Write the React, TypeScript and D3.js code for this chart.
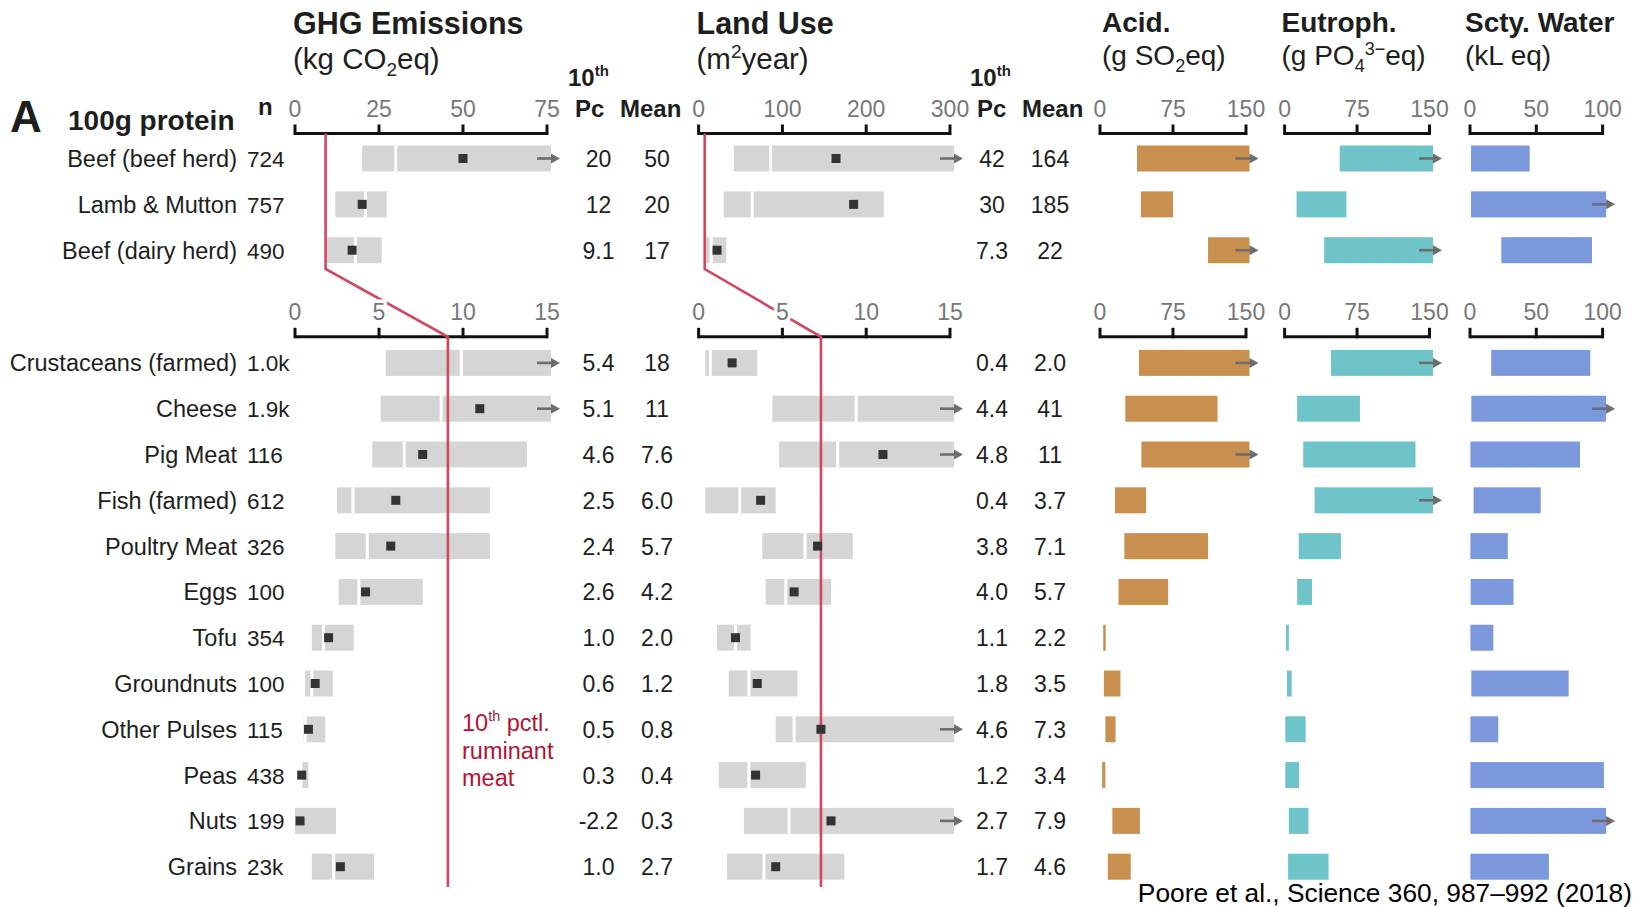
import React from "react";
import * as d3 from "d3";

const W = 1635;
const H = 907;
const FONT = "'Liberation Sans', Arial, Helvetica, sans-serif";

// Food groups (first three are ruminant meats, drawn on the wider upper scales)
const foods = [
  "Beef (beef herd)", "Lamb & Mutton", "Beef (dairy herd)",
  "Crustaceans (farmed)", "Cheese", "Pig Meat", "Fish (farmed)", "Poultry Meat",
  "Eggs", "Tofu", "Groundnuts", "Other Pulses", "Peas", "Nuts", "Grains",
];
const nObs = ["724", "757", "490", "1.0k", "1.9k", "116", "612", "326", "100", "354", "100", "115", "438", "199", "23k"];

// GHG emissions, kg CO2eq per 100 g protein
const ghgP10 = [20, 12, 9.1, 5.4, 5.1, 4.6, 2.5, 2.4, 2.6, 1.0, 0.6, 0.5, 0.3, -2.2, 1.0];
const ghgMedian = [30, 21, 18, 9.9, 8.7, 6.5, 3.45, 4.3, 3.8, 1.7, 1.0, 0.6, 0.35, -0.4, 2.3];
const ghgP90 = [105, 27.3, 25.8, 24, 21, 13.8, 11.6, 11.6, 7.6, 3.5, 2.25, 1.8, 0.8, 2.44, 4.7];
const ghgMean = [50, 20, 17, 18, 11, 7.6, 6.0, 5.7, 4.2, 2.0, 1.2, 0.8, 0.4, 0.3, 2.7];

// Land use, m2 year per 100 g protein
const landP10 = [42, 30, 7.3, 0.4, 4.4, 4.8, 0.4, 3.8, 4.0, 1.1, 1.8, 4.6, 1.2, 2.7, 1.7];
const landMedian = [86, 64, 15, 0.7, 9.4, 8.3, 2.45, 6.35, 5.2, 2.2, 3.0, 5.7, 3.0, 5.4, 3.9];
const landP90 = [370, 221, 33, 3.5, 17, 16, 4.6, 9.2, 7.9, 3.1, 5.9, 17, 6.4, 16, 8.7];
const landMean = [164, 185, 22, 2.0, 41, 11, 3.7, 7.1, 5.7, 2.2, 3.5, 7.3, 3.4, 7.9, 4.6];

// Acidification, g SO2eq
const acidLo = [38, 42, 111, 40, 26, 42.5, 15.3, 25, 19, 3.3, 4, 5.5, 2.2, 12.7, 8];
const acidHi = [190, 75, 180, 175, 120.7, 160, 47.3, 111, 70, 5.8, 21, 16, 5.5, 41, 31.6];
// Eutrophication, g PO4 3- eq
const eutroLo = [57, 12.4, 41, 48, 13, 19.3, 31, 14.6, 13, 1.5, 2.5, 0.7, 0.7, 4.4, 3.6];
const eutroHi = [200, 64, 190, 185, 78, 135.5, 170, 58.3, 28.4, 4.4, 7.3, 21.8, 15, 24.7, 45.5];
// Scarcity-weighted water, kL eq
const waterLo = [0.8, 0.8, 23.6, 16, 1, 0.3, 2.7, 0.3, 0.5, 0.3, 1, 0.3, 0.3, 0.3, 0.3];
const waterHi = [45, 130, 92, 90.7, 120, 83, 53.3, 28.5, 32.8, 17.6, 74.4, 21.3, 101, 140, 59.5];

// 10th percentile of ruminant meat (dairy-herd beef)
const ghgRuminantP10 = 9.1;
const landRuminantP10 = 7.3;

const ghgTicksTop = [0, 25, 50, 75];
const landTicksTop = [0, 100, 200, 300];
const lowTicks = [0, 5, 10, 15];
const impactTicks = [0, 75, 150];
const waterTicks = [0, 50, 100];

const topFoods = foods.slice(0, 3);
const lowFoods = foods.slice(3);

const ghgTop = d3.scaleLinear().domain([0, 75]).range([295, 547]);
const ghgLow = d3.scaleLinear().domain([0, 15]).range([295, 547]);
const landTop = d3.scaleLinear().domain([0, 300]).range([698.6, 950]);
const landLow = d3.scaleLinear().domain([0, 15]).range([698.6, 950]);
const acidX = d3.scaleLinear().domain([0, 150]).range([1100, 1246]);
const eutroX = d3.scaleLinear().domain([0, 150]).range([1284.6, 1429.5]);
const waterX = d3.scaleLinear().domain([0, 100]).range([1470, 1602.6]);
const yTop = d3.scalePoint<string>().domain(topFoods).range([158.5, 250.2]);
const yLow = d3.scalePoint<string>().domain(lowFoods).range([362.9, 866.7]);

const AXIS_TOP = 133.5;
const AXIS_LOW = 336.8;
const BAR_H = 26;
const GRAY = "#d5d5d5";
const ARROW = "#6d6d6d";
const RED = "#d2465f";
const TXT = "#1e1e1e";

const rowY = (i: number) => (i < 3 ? (yTop(foods[i]) as number) : (yLow(foods[i]) as number));
const fmt = (v: number) => (Math.abs(v) < 10 ? v.toFixed(1) : String(Math.round(v)));

function Arrow({ x, y }: { x: number; y: number }) {
  return (
    <g>
      <line x1={x - 14} x2={x + 1} y1={y} y2={y} stroke={ARROW} strokeWidth={2.6} />
      <path d={`M${x + 9},${y} L${x},${y - 5} L${x},${y + 5} Z`} fill={ARROW} />
    </g>
  );
}

function Axis({ scale, ticks, y }: { scale: d3.ScaleLinear<number, number>; ticks: number[]; y: number }) {
  const [r0, r1] = scale.range();
  return (
    <g>
      <line x1={r0} x2={r1} y1={y} y2={y} stroke="#111" strokeWidth={3} />
      {ticks.map((t) => (
        <line key={t} x1={scale(t)} x2={scale(t)} y1={y + 1.5} y2={y - 9} stroke="#111" strokeWidth={3} />
      ))}
    </g>
  );
}

function AxisLabels({ scale, ticks, y }: { scale: d3.ScaleLinear<number, number>; ticks: number[]; y: number }) {
  return (
    <g fontSize={23} fill="#777" textAnchor="middle" stroke="#fff" strokeWidth={7} style={{ paintOrder: "stroke" }}>
      {ticks.map((t) => (
        <text key={t} x={scale(t)} y={y - 16.7}>{t}</text>
      ))}
    </g>
  );
}

function RangeBar({ scale, y, lo, med, hi }: {
  scale: d3.ScaleLinear<number, number>; y: number; lo: number; med: number; hi: number;
}) {
  const max = scale.domain()[1];
  const over = hi > max;
  const x0 = scale(Math.max(lo, 0));
  const x1 = over ? scale(max) + 4 : scale(hi);
  const showMed = med > Math.max(lo, 0) && med < Math.min(hi, max);
  return (
    <g>
      <rect x={x0} y={y - BAR_H / 2} width={x1 - x0} height={BAR_H} fill={GRAY} />
      {showMed && <rect x={scale(med) - 1.5} y={y - BAR_H / 2} width={3} height={BAR_H} fill="#fff" />}
      {over && <Arrow x={x1} y={y} />}
    </g>
  );
}

function ColorBar({ scale, y, lo, hi, color }: {
  scale: d3.ScaleLinear<number, number>; y: number; lo: number; hi: number; color: string;
}) {
  const max = scale.domain()[1];
  const over = hi > max * 1.02;
  const x0 = scale(Math.max(lo, 0));
  const x1 = Math.min(scale(hi), scale(max) + 3.5);
  return (
    <g>
      <rect x={x0} y={y - BAR_H / 2} width={Math.max(x1 - x0, 2.5)} height={BAR_H} fill={color} />
      {over && <Arrow x={x1} y={y} />}
    </g>
  );
}

function refLine(top: d3.ScaleLinear<number, number>, low: d3.ScaleLinear<number, number>, v: number) {
  const pts: [number, number][] = [
    [top(v), AXIS_TOP],
    [top(v), 269],
    [low(v), AXIS_LOW],
    [low(v), 887],
  ];
  return d3.line()(pts) as string;
}

export default function App() {
  const rows = foods.map((f, i) => ({ f, i, y: rowY(i) }));
  return (
    <div style={{ position: "absolute", left: 0, top: 0, width: W, height: H, background: "#fff" }}>
      <svg width={W} height={H} viewBox={`0 0 ${W} ${H}`} fontFamily={FONT}>
        <rect width={W} height={H} fill="#fff" />

        {/* headers */}
        <g fill={TXT}>
          <text x={10} y={132} fontSize={44} fontWeight="bold" fontFamily="'Liberation Sans Narrow', 'Liberation Sans', Arial, sans-serif">A</text>
          <text x={68} y={130} fontSize={28} fontWeight="bold">100g protein</text>
          <text x={258} y={115} fontSize={24} fontWeight="bold">n</text>

          <text x={293} y={33.5} fontSize={30.5} fontWeight="bold">GHG Emissions</text>
          <text x={293} y={69} fontSize={29.5}>
            <tspan>(kg CO</tspan>
            <tspan fontSize={19} dy={7}>2</tspan>
            <tspan dy={-7}>eq)</tspan>
          </text>
          <text x={696.5} y={33.5} fontSize={30.5} fontWeight="bold">Land Use</text>
          <text x={696.5} y={69} fontSize={29.5}>
            <tspan>(m</tspan>
            <tspan fontSize={19} dy={-11}>2</tspan>
            <tspan dy={11}>year)</tspan>
          </text>

          <text x={1102} y={31.5} fontSize={28} fontWeight="bold">Acid.</text>
          <text x={1102} y={65} fontSize={28}>
            <tspan>(g SO</tspan>
            <tspan fontSize={18} dy={7}>2</tspan>
            <tspan dy={-7}>eq)</tspan>
          </text>
          <text x={1281.5} y={31.5} fontSize={28} fontWeight="bold">Eutroph.</text>
          <text x={1281.5} y={65} fontSize={28}>
            <tspan>(g PO</tspan>
            <tspan fontSize={18} dy={7}>4</tspan>
            <tspan fontSize={18} dy={-17}>3−</tspan>
            <tspan dy={10}>eq)</tspan>
          </text>
          <text x={1465} y={31.5} fontSize={28} fontWeight="bold">Scty. Water</text>
          <text x={1465} y={65} fontSize={28}>(kL eq)</text>

          {[{ x10: 568, xPc: 575, xMean: 620 }, { x10: 970, xPc: 977, xMean: 1022 }].map((h, k) => (
            <g key={k} fontWeight="bold">
              <text x={h.x10} y={85.5} fontSize={24}>
                <tspan>10</tspan>
                <tspan fontSize={15} dy={-10}>th</tspan>
              </text>
              <text x={h.xPc} y={117} fontSize={24}>Pc</text>
              <text x={h.xMean} y={117} fontSize={24}>Mean</text>
            </g>
          ))}
        </g>

        {/* axes */}
        <Axis scale={ghgTop} ticks={ghgTicksTop} y={AXIS_TOP} />
        <Axis scale={landTop} ticks={landTicksTop} y={AXIS_TOP} />
        <Axis scale={acidX} ticks={impactTicks} y={AXIS_TOP} />
        <Axis scale={eutroX} ticks={impactTicks} y={AXIS_TOP} />
        <Axis scale={waterX} ticks={waterTicks} y={AXIS_TOP} />
        <Axis scale={ghgLow} ticks={lowTicks} y={AXIS_LOW} />
        <Axis scale={landLow} ticks={lowTicks} y={AXIS_LOW} />
        <Axis scale={acidX} ticks={impactTicks} y={AXIS_LOW} />
        <Axis scale={eutroX} ticks={impactTicks} y={AXIS_LOW} />
        <Axis scale={waterX} ticks={waterTicks} y={AXIS_LOW} />

        {/* rows */}
        {rows.map(({ f, i, y }) => {
          const g = i < 3 ? ghgTop : ghgLow;
          const l = i < 3 ? landTop : landLow;
          const base = y + 8.5;
          return (
            <g key={f}>
              <text x={237} y={base} fontSize={23.5} fill={TXT} textAnchor="end">{f}</text>
              <text x={247} y={base} fontSize={22.5} fill={TXT}>{nObs[i]}</text>
              <RangeBar scale={g} y={y} lo={ghgP10[i]} med={ghgMedian[i]} hi={ghgP90[i]} />
              <RangeBar scale={l} y={y} lo={landP10[i]} med={landMedian[i]} hi={landP90[i]} />
              <text x={598.5} y={base} fontSize={23} fill={TXT} textAnchor="middle">{fmt(ghgP10[i])}</text>
              <text x={657} y={base} fontSize={23} fill={TXT} textAnchor="middle">{fmt(ghgMean[i])}</text>
              <text x={992} y={base} fontSize={23} fill={TXT} textAnchor="middle">{fmt(landP10[i])}</text>
              <text x={1050} y={base} fontSize={23} fill={TXT} textAnchor="middle">{fmt(landMean[i])}</text>
              <ColorBar scale={acidX} y={y} lo={acidLo[i]} hi={acidHi[i]} color="#c98f4e" />
              <ColorBar scale={eutroX} y={y} lo={eutroLo[i]} hi={eutroHi[i]} color="#6ec4c9" />
              <ColorBar scale={waterX} y={y} lo={waterLo[i]} hi={waterHi[i]} color="#7a98db" />
            </g>
          );
        })}

        {/* 10th percentile of ruminant meat */}
        <path d={refLine(ghgTop, ghgLow, ghgRuminantP10)} fill="none" stroke={RED} strokeWidth={2.6} />
        <path d={refLine(landTop, landLow, landRuminantP10)} fill="none" stroke={RED} strokeWidth={2.6} />

        {/* mean markers on top of reference lines */}
        {rows.map(({ f, i, y }) => {
          const g = i < 3 ? ghgTop : ghgLow;
          const l = i < 3 ? landTop : landLow;
          return (
            <g key={`m-${f}`} fill="#333">
              {ghgMean[i] <= g.domain()[1] && <rect x={g(ghgMean[i]) - 4.5} y={y - 4.5} width={9} height={9} />}
              {landMean[i] <= l.domain()[1] && <rect x={l(landMean[i]) - 4.5} y={y - 4.5} width={9} height={9} />}
            </g>
          );
        })}

        {/* tick labels */}
        <AxisLabels scale={ghgTop} ticks={ghgTicksTop} y={AXIS_TOP} />
        <AxisLabels scale={landTop} ticks={landTicksTop} y={AXIS_TOP} />
        <AxisLabels scale={acidX} ticks={impactTicks} y={AXIS_TOP} />
        <AxisLabels scale={eutroX} ticks={impactTicks} y={AXIS_TOP} />
        <AxisLabels scale={waterX} ticks={waterTicks} y={AXIS_TOP} />
        <AxisLabels scale={ghgLow} ticks={lowTicks} y={AXIS_LOW} />
        <AxisLabels scale={landLow} ticks={lowTicks} y={AXIS_LOW} />
        <AxisLabels scale={acidX} ticks={impactTicks} y={AXIS_LOW} />
        <AxisLabels scale={eutroX} ticks={impactTicks} y={AXIS_LOW} />
        <AxisLabels scale={waterX} ticks={waterTicks} y={AXIS_LOW} />

        <g fill="#b5132f" fontSize={23.5}>
          <text x={462} y={731}>
            <tspan>10</tspan>
            <tspan fontSize={14.5} dy={-10}>th</tspan>
            <tspan dy={10}> pctl.</tspan>
          </text>
          <text x={462} y={758.5}>ruminant</text>
          <text x={462} y={786}>meat</text>
        </g>

        <text x={1632} y={902} fontSize={26.3} fill="#000" textAnchor="end">
          Poore et al., Science 360, 987–992 (2018)
        </text>
      </svg>
    </div>
  );
}
